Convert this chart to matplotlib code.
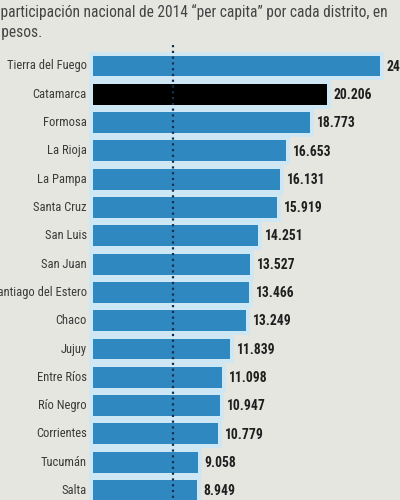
import matplotlib.pyplot as plt
from matplotlib import font_manager

# Coparticipación 2014 per capita (pesos)
provincias = ["Tierra del Fuego", "Catamarca", "Formosa", "La Rioja", "La Pampa",
              "Santa Cruz", "San Luis", "San Juan", "Santiago del Estero", "Chaco",
              "Jujuy", "Entre Ríos", "Río Negro", "Corrientes", "Tucumán", "Salta"]
valores = [24780, 20206, 18773, 16653, 16131, 15919, 14251, 13527, 13466, 13249,
           11839, 11098, 10947, 10779, 9058, 8949]
etiquetas = ["24.780", "20.206", "18.773", "16.653", "16.131", "15.919", "14.251", "13.527",
             "13.466", "13.249", "11.839", "11.098", "10.947", "10.779", "9.058", "8.949"]
destacada = "Catamarca"
promedio = 6900

fams = {f.name for f in font_manager.fontManager.ttflist}
candidatas = ['Liberation Sans Narrow', 'DejaVu Sans Condensed', 'Roboto Condensed',
              'Open Sans Condensed', 'Roboto']
fuente = next((c for c in candidatas if c in fams), 'DejaVu Sans')
plt.rcParams['font.family'] = [fuente, 'DejaVu Sans']

fondo = '#e6e6e1'
azul = '#3088c0'
celeste = '#cde7f4'

fig = plt.figure(figsize=(4, 5), dpi=100, facecolor=fondo)
ax = fig.add_axes([0, 0, 1, 1])
ax.set_facecolor(fondo)
ax.axis('off')

# escala: 0 en x=93px, 0.01158 px por peso; filas cada 28.3 px desde y=66
ax.set_xlim(-93 / 0.01158, (400 - 93) / 0.01158)
ax.set_ylim((500 - 66) / 28.3, -66 / 28.3)

ys = list(range(len(provincias)))
colores = ['black' if p == destacada else azul for p in provincias]

ax.barh(ys, valores, height=0.74, color=celeste, edgecolor=celeste,
        linewidth=5.5, zorder=1)
ax.barh(ys, valores, height=0.74, color=colores, linewidth=0, zorder=2)

ax.vlines(promedio, -0.75, len(provincias), colors='#14304f', linestyles=(0, (1, 1.6)),
          linewidth=1.6, zorder=3)

for y, p, v, e in zip(ys, provincias, valores, etiquetas):
    ax.annotate(p, (0, y), xytext=(-4.5, 0), textcoords='offset points',
                ha='right', va='center', fontsize=9, color='#3a3a3a')
    ax.annotate(e, (v, y), xytext=(5, -0.5), textcoords='offset points',
                ha='left', va='center', fontsize=9.8, fontweight='bold', color='#1f1f1f')

# título recortado por la izquierda, como en la imagen original
r = fig.canvas.get_renderer()
for texto, corte, ypx in [('Coparticipación nacional de 2014 “per capita” por cada distrito, en', 'Co', 12),
                          ('en pesos.', 'en ', 32)]:
    tmp = fig.text(0, 0, corte, fontsize=11.2)
    w = tmp.get_window_extent(r).width
    tmp.remove()
    fig.text(-(w - 1) / 400, 1 - ypx / 500, texto, ha='left', va='center',
             fontsize=11.2, color='#444444')

fig.savefig('out.png', dpi=100, facecolor=fondo)
